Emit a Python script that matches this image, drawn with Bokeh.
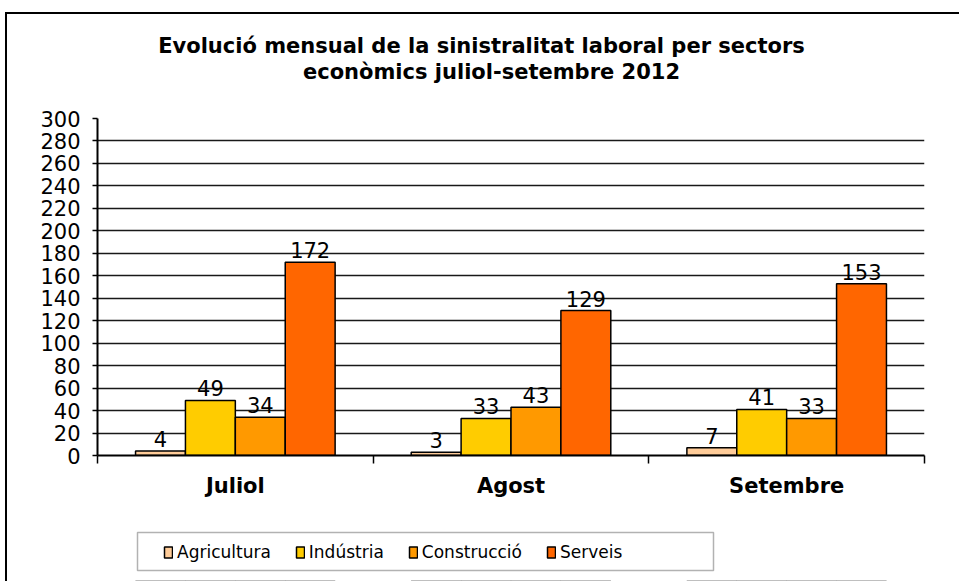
from bokeh.plotting import figure
from bokeh.layouts import column
from bokeh.models import (ColumnDataSource, Range1d, LinearAxis, FixedTicker, InlineStyleSheet,
                          SingleIntervalTicker, Label, Legend, LegendItem, BoxAnnotation)
from bokeh.transform import dodge
from bokeh.core.properties import value
from bokeh.embed import file_html
from bokeh.resources import INLINE

# ---- data ----
months = ["Juliol", "Agost", "Setembre"]
sectors = ["Agricultura", "Indústria", "Construcció", "Serveis"]
agricultura = [4, 3, 7]
industria = [49, 33, 41]
construccio = [34, 43, 33]
serveis = [172, 129, 153]
title_lines = ["Evolució mensual de la sinistralitat laboral per sectors",
               "econòmics juliol-setembre 2012"]

colors = ["#FFCC99", "#FFCC00", "#FF9900", "#FF6600"]
keys = ["agricultura", "industria", "construccio", "serveis"]
series = [agricultura, industria, construccio, serveis]

# category slots: month i occupies [i, i+1]
xpos = [i + 0.5 for i in range(len(months))]
data = {"month": months, "xpos": xpos}
for k, s in zip(keys, series):
    data[k] = s
    data[k + "_lbl"] = [str(v) for v in s]
src = ColumnDataSource(data)

FONT = "DejaVu Sans"
W = 959
TITLE_H = 95
MAIN_H = 420
LEG_H = 581 - TITLE_H - MAIN_H
FRAME_L = 97          # frames of the stacked figures are aligned at this x

# ---------------- title strip ----------------
pt = figure(width=W, height=TITLE_H, x_range=Range1d(0, 1), y_range=Range1d(0, 1),
            output_backend="svg", toolbar_location=None, x_axis_location=None, y_axis_location=None,
            min_border=0)
pt.outline_line_color = None
pt.grid.visible = False
pt.add_layout(Label(x=481 - FRAME_L, y=TITLE_H - 45, x_units="screen", y_units="screen",
                    text=title_lines[0], text_align="center", text_baseline="middle", text_font=FONT,
                    text_font_style="bold", text_font_size="21px", text_color="black"))
pt.add_layout(Label(x=491 - FRAME_L, y=TITLE_H - 71, x_units="screen", y_units="screen",
                    text=title_lines[1], text_align="center", text_baseline="middle", text_font=FONT,
                    text_font_style="bold", text_font_size="21px", text_color="black"))

# ---------------- main chart ----------------
p = figure(width=W, height=MAIN_H, x_range=Range1d(0, len(months)), y_range=Range1d(0, 300),
           output_backend="svg", toolbar_location=None, x_axis_location=None,
           min_border_left=FRAME_L, min_border_right=35, min_border_top=118 - TITLE_H,
           min_border_bottom=MAIN_H - (455 - TITLE_H))
p.outline_line_color = None
p.background_fill_color = "white"
p.border_fill_color = "white"
p.xgrid.visible = False

p.yaxis.ticker = SingleIntervalTicker(interval=20, num_minor_ticks=0)
p.yaxis.minor_tick_line_color = None
p.yaxis.major_tick_in = 0
p.yaxis.major_tick_out = 5
p.yaxis.major_tick_line_color = "black"
p.yaxis.major_tick_line_width = 1.5
p.yaxis.axis_line_color = "black"
p.yaxis.axis_line_width = 2
p.yaxis.major_label_standoff = 12
p.yaxis.major_label_text_font = FONT
p.yaxis.major_label_text_font_size = "21px"
p.yaxis.major_label_text_color = "black"
p.ygrid.grid_line_color = "black"
p.ygrid.grid_line_width = 1.6
p.ygrid.grid_line_alpha = 0.9

# x axes: tick axis at category boundaries + label axis at category centres
num_axis = LinearAxis(ticker=FixedTicker(ticks=list(range(len(months) + 1))))
num_axis.major_label_text_font_size = "1px"
num_axis.major_label_text_color = None
num_axis.major_label_standoff = 0
num_axis.major_tick_in = 0
num_axis.major_tick_out = 8
num_axis.major_tick_line_width = 1.5
num_axis.major_tick_line_color = "black"
num_axis.minor_tick_line_color = None
num_axis.axis_line_color = "black"
num_axis.axis_line_width = 2

cat_axis = LinearAxis(ticker=FixedTicker(ticks=xpos),
                      major_label_overrides={x: m for x, m in zip(xpos, months)})
cat_axis.axis_line_color = None
cat_axis.major_tick_line_color = None
cat_axis.minor_tick_line_color = None
cat_axis.major_label_text_font = FONT
cat_axis.major_label_text_font_style = "bold"
cat_axis.major_label_text_font_size = "21px"
cat_axis.major_label_text_color = "black"
cat_axis.major_label_standoff = 4
p.add_layout(num_axis, "below")
p.add_layout(cat_axis, "below")

w = 0.181
offsets = [-1.5 * w, -0.5 * w, 0.5 * w, 1.5 * w]
for k, off, c in zip(keys, offsets, colors):
    p.vbar(x=dodge("xpos", off), top=k, width=w, source=src,
           fill_color=c, line_color="black", line_width=1.5)
    p.text(x=dodge("xpos", off), y=k, text=k + "_lbl", source=src,
           text_align="center", text_baseline="bottom", y_offset=-4,
           text_font=value(FONT), text_font_size="21px", text_color="black")

# ---------------- legend strip ----------------
# the same bars again, lying entirely below this strip's y range: they only serve as legend swatches
pl = figure(width=W, height=LEG_H, x_range=Range1d(0, len(months)), y_range=Range1d(200, 400),
            output_backend="svg", toolbar_location=None, x_axis_location=None, y_axis_location=None,
            min_border=0)
pl.outline_line_color = None
pl.grid.visible = False
swatches = [pl.vbar(x=dodge("xpos", off), top=k, width=w, source=src, fill_color=c,
                    line_color="black", line_width=1.5)
            for k, off, c in zip(keys, offsets, colors)]
pl.add_layout(BoxAnnotation(left=137 - FRAME_L, right=713 - FRAME_L, bottom=581 - 570, top=581 - 532,
                            left_units="screen", right_units="screen",
                            bottom_units="screen", top_units="screen",
                            fill_color="white", fill_alpha=1.0, line_color="black", line_width=1.5))
legend = Legend(items=[LegendItem(label=s, renderers=[r]) for s, r in zip(sectors, swatches)],
                location=(66, 19), orientation="horizontal",
                glyph_width=10, glyph_height=14, label_standoff=4, spacing=24, padding=8,
                border_line_color=None, background_fill_alpha=0.0,
                label_text_font=FONT, label_text_font_size="17px", label_text_color="black",
                margin=0)
pl.add_layout(legend, "center")

layout = column(pt, p, pl, spacing=0)
layout.stylesheets = [InlineStyleSheet(css=(
    ":host { position: relative; }"
    ":host::after { content: ''; position: absolute; left: 5px; top: 12px; right: 0; bottom: 0;"
    " border-left: 2px solid black; border-top: 2px solid black; pointer-events: none; }"))]

open("out.html", "w").write(file_html(layout, INLINE))
